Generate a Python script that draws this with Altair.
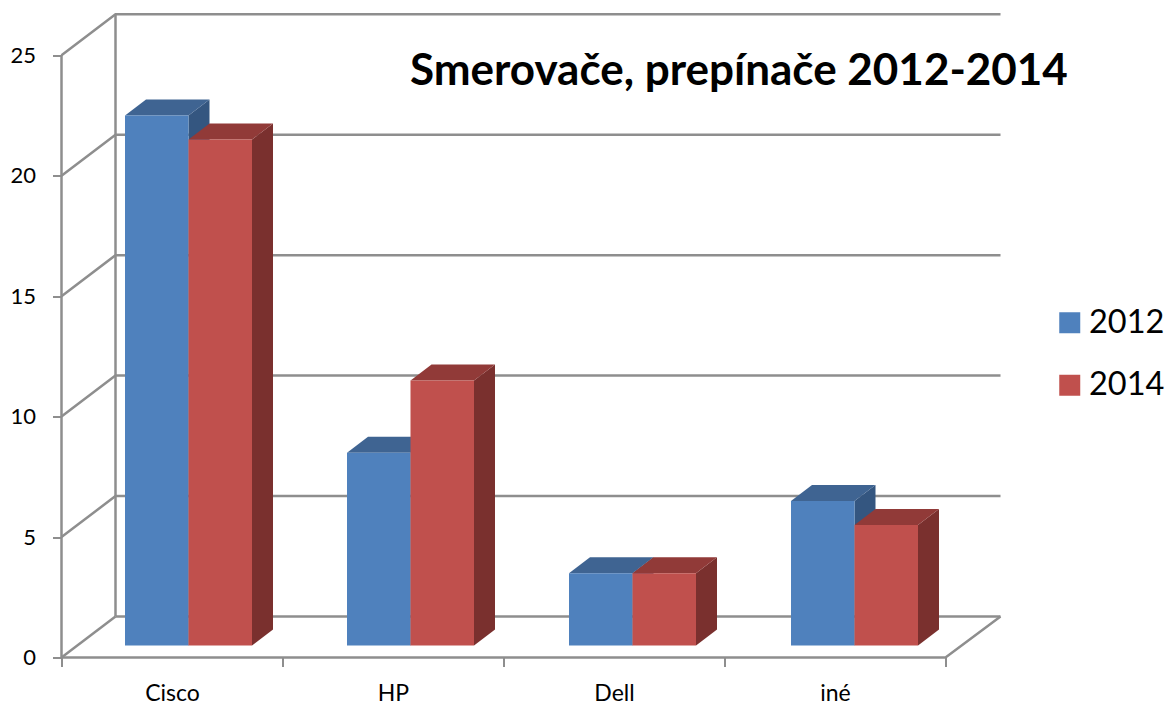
import altair as alt
import pandas as pd

categories = ["Cisco", "HP", "Dell", "iné"]
values_2012 = [22, 8, 3, 6]
values_2014 = [21, 11, 3, 5]
y_ticks = [0, 5, 10, 15, 20, 25]
chart_title = "Smerovače, prepínače 2012-2014"

FONT = "Lato"
GRID = "#8e8e8e"
PX_X = 221.0       # px per category unit
PX_Y = 24.09       # px per value unit
WALL_X = 54 / PX_X
WALL_Y = 41 / PX_Y
X_MAX = 939 / PX_X
Y_MAX = 644 / PX_Y
BAR_START = 63.5 / PX_X
BAR_W = 63.5 / PX_X
BAR_STEP = 222 / PX_X
DEPTH_X = 21 / PX_X
DEPTH_Y = 16 / PX_Y
BASE = 12 / PX_Y

x_scale = alt.Scale(domain=[0, X_MAX], nice=False, zero=False)
y_scale = alt.Scale(domain=[0, Y_MAX], nice=False, zero=False)
color_scale = alt.Scale(domain=["2012", "2014"], range=["#4f81bd", "#c0504d"])

# frame: wall lines
n = len(categories)
frame = []
line_id = 0
def add(points):
    global line_id
    for i, (px, py) in enumerate(points):
        frame.append({"id": line_id, "i": i, "x": px, "y": py})
    line_id += 1
for v in y_ticks[1:]:
    add([(0, v), (WALL_X, v + WALL_Y), (X_MAX, v + WALL_Y)])
add([(WALL_X, WALL_Y), (X_MAX, WALL_Y)])
add([(0, 0), (WALL_X, WALL_Y)])
add([(0, 0), (n, 0), (X_MAX, WALL_Y)])
add([(0, 0), (0, y_ticks[-1])])
add([(WALL_X, WALL_Y), (WALL_X, y_ticks[-1] + WALL_Y)])

frame_layer = alt.Chart(pd.DataFrame(frame)).mark_line(
    color=GRID, strokeWidth=2.5, strokeJoin="miter", clip=False
).encode(
    x=alt.X("x:Q", scale=x_scale, title=None, axis=alt.Axis(
        orient="bottom", values=list(range(n + 1)), labels=False, domain=False, grid=False,
        tickColor=GRID, tickWidth=2, tickSize=9, title=None)),
    y=alt.Y("y:Q", scale=y_scale, title=None, axis=alt.Axis(
        orient="left", values=y_ticks, labels=False, domain=False, grid=False, tickColor=GRID,
        tickWidth=2, tickSize=9, title=None)),
    detail="id:N",
    order="i:Q",
)

def series_layers(name, values, start, top_color, side_color, with_axis):
    front, top, side = [], [], []
    for k, v in enumerate(values):
        x0 = start + k * BAR_STEP
        x1 = x0 + BAR_W
        h = v + BASE
        front.append({"x0": x0, "x1": x1, "y0": BASE, "y1": h, "series": name, "cat": categories[k]})
        side += [
            {"bar": k, "x": x1, "y": BASE, "y2": h},
            {"bar": k, "x": x1 + DEPTH_X, "y": BASE + DEPTH_Y, "y2": h + DEPTH_Y},
        ]
        top += [
            {"bar": k, "x": x0, "y": h, "y2": h},
            {"bar": k, "x": x0 + DEPTH_X, "y": h, "y2": h + DEPTH_Y},
            {"bar": k, "x": x1, "y": h, "y2": h + DEPTH_Y},
            {"bar": k, "x": x1 + DEPTH_X, "y": h + DEPTH_Y, "y2": h + DEPTH_Y},
        ]
    def poly(rows, color):
        return alt.Chart(pd.DataFrame(rows)).mark_area(color=color, orient="vertical").encode(
            x=alt.X("x:Q", scale=x_scale, axis=None),
            y=alt.Y("y:Q", scale=y_scale, axis=None, stack=None),
            y2=alt.Y2("y2:Q"),
            detail="bar:N",
        )
    x_axis = None
    y_axis = None
    if with_axis:
        lookup = " : ".join(
            f"datum.value < {k + 1} ? '{c}'" for k, c in enumerate(categories)
        ) + " : ''"
        x_axis = alt.Axis(
            orient="bottom", values=[k + 0.5 for k in range(n)], ticks=False, domain=False, grid=False,
            labelExpr=lookup, labelFont=FONT, labelFontSize=23, labelColor="#000000",
            labelPadding=25, title=None,
        )
        y_axis = alt.Axis(
            orient="left", values=y_ticks, ticks=False, domain=False, grid=False,
            labelExpr="'' + datum.value", labelFont=FONT, labelFontSize=22, labelColor="#000000",
            labelPadding=26, title=None,
        )
    front_layer = alt.Chart(pd.DataFrame(front)).mark_rect().encode(
        x=alt.X("x0:Q", scale=x_scale, axis=x_axis, title=None),
        x2="x1:Q",
        y=alt.Y("y0:Q", scale=y_scale, axis=y_axis, title=None),
        y2="y1:Q",
        color=alt.Color("series:N", scale=color_scale, legend=alt.Legend(
            orient="none", legendX=992, legendY=293, title=None, symbolType="square",
            symbolSize=441, symbolStrokeWidth=0, symbolOpacity=1, labelFont=FONT, labelFontSize=32.5,
            labelColor="#000000", rowPadding=29.5, labelOffset=3, labelLimit=200)),
    )
    return [poly(side, side_color), poly(top, top_color), front_layer]

layers = [frame_layer]
layers += series_layers("2012", values_2012, BAR_START, "#3f6492", "#345680", True)
layers += series_layers("2014", values_2014, BAR_START + BAR_W, "#913a38", "#7a302e", False)

chart = alt.layer(*layers).resolve_axis(x="independent", y="independent").properties(
    width=939,
    height=644,
    autosize=alt.AutoSizeParams(type="none"),
    padding={"left": 53.5, "top": 5.5, "right": 166, "bottom": 49},
    title=alt.TitleParams(
        text=chart_title, anchor="start", font=FONT, fontSize=44, fontWeight="bold",
        color="#000000", dx=348.5, dy=85, offset=0, frame="group",
    ),
).configure_view(stroke=None)

chart.save("out.html", embed_options={"renderer": "svg", "actions": False})
